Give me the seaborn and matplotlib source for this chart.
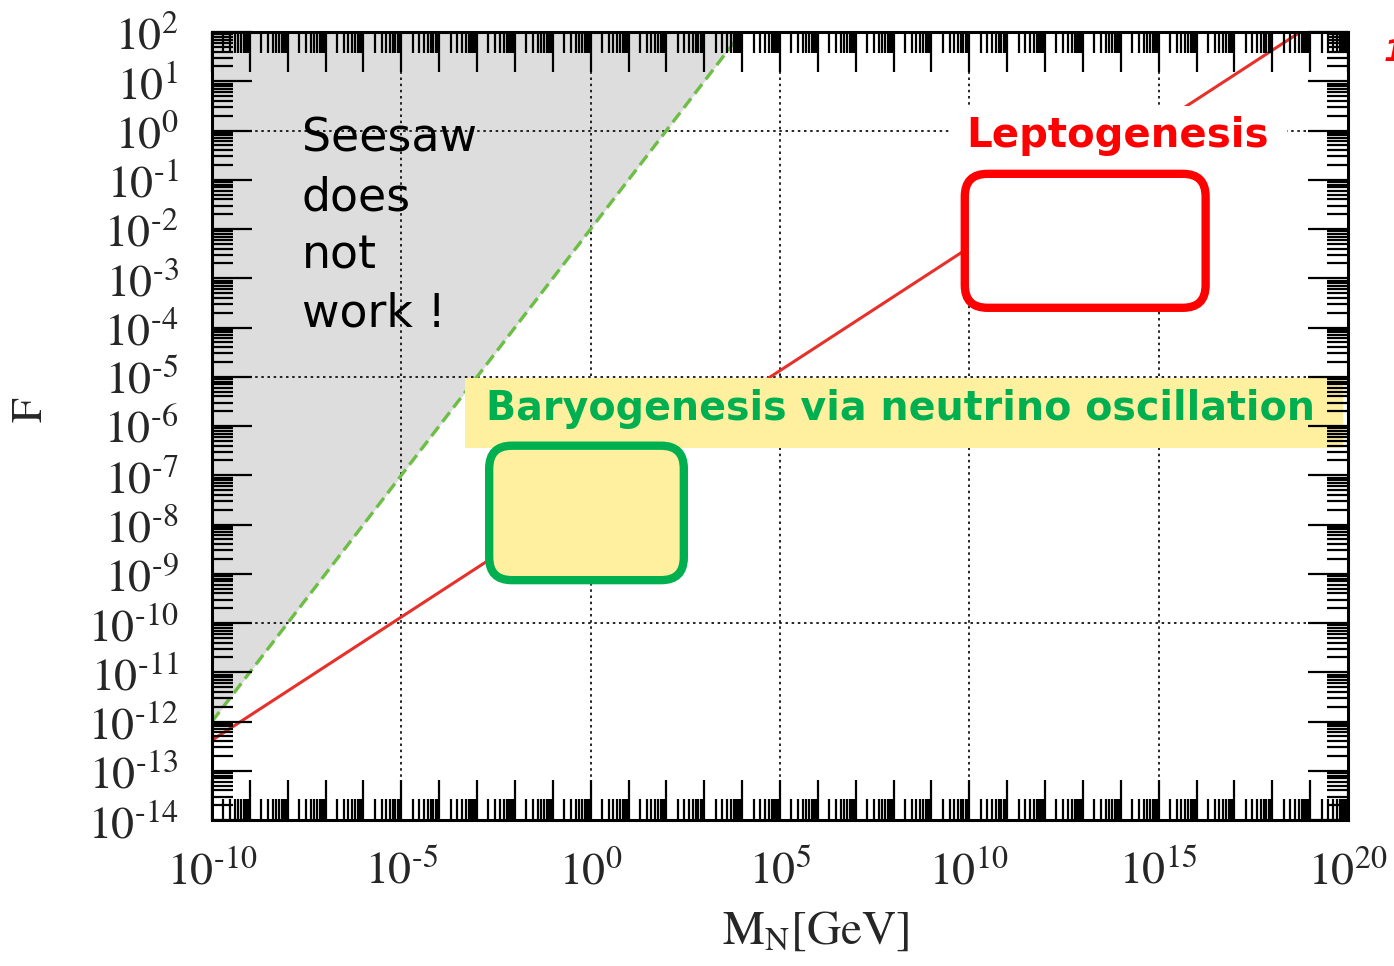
import numpy as np
import matplotlib
matplotlib.use("Agg")
import matplotlib.pyplot as plt
import seaborn as sns
from matplotlib.patches import FancyBboxPatch, Rectangle
from matplotlib.ticker import FixedLocator, LogLocator, NullFormatter

# ---------------- data ----------------
x_decades = list(range(-10, 21))          # major x ticks, every decade
y_decades = list(range(-14, 3))           # major y ticks, every decade
x_label_step = 5                          # x labels every 5 decades
grid_x = [1e-5, 1e0, 1e5, 1e10, 1e15]
grid_y = [1e-10, 1e-5, 1e0]

# red line (leptogenesis scaling) end points
red_M = [1e-10, 1e20]
red_F = [10**-12.38, 10**2.63]
# green dashed seesaw limit end points
green_M = [1e-10, 1e5]
green_F = [1e-12, 1e3]
F_top = 1e2

# region boxes (M range, F range)
baryo_box = dict(M=(10**-2.68, 10**2.46), F=(10**-9.13, 10**-6.40))
lepto_box = dict(M=(10**9.88, 10**16.24), F=(10**-3.60, 10**-0.88))

seesaw_text = "Seesaw\ndoes\nnot\nwork !"
lepto_text = "Leptogenesis"
baryo_text = "Baryogenesis via neutrino oscillation"


def exp_label(e):
    s = str(e).replace("-", r"\text{-}")
    return r"$10^{%s}$" % s


# ---------------- style ----------------
sns.set_theme(style="white")
plt.rcParams["font.family"] = ["DejaVu Sans"]
plt.rcParams["mathtext.fontset"] = "stix"

W, H = 1394, 966
fig = plt.figure(figsize=(W / 100, H / 100), dpi=100)
AX_L, AX_R, AX_T, AX_B = 212, 1348, 32, 820
ax = fig.add_axes([AX_L / W, (H - AX_B) / H, (AX_R - AX_L) / W, (AX_B - AX_T) / H])
ax.set_facecolor("white")

ax.set_xscale("log")
ax.set_yscale("log")
ax.set_xlim(10.0**x_decades[0], 10.0**x_decades[-1])
ax.set_ylim(10.0**y_decades[0], 10.0**y_decades[-1])

# gray excluded region
ax.fill_between(green_M, green_F, F_top, color="#DDDDDD", lw=0, zorder=0.5)

# dotted grid
for gx in grid_x:
    ax.axvline(gx, color="black", lw=1.2, ls=(0, (1.5, 2.2)), zorder=1)
for gy in grid_y:
    ax.axhline(gy, color="black", lw=1.2, ls=(0, (1.5, 2.2)), zorder=1)

# lines
sns.lineplot(x=red_M, y=red_F, ax=ax, color="#E8302A", lw=2.2, sort=False,
             estimator=None, zorder=2)
sns.lineplot(x=green_M, y=green_F, ax=ax, color="#6DBE45", lw=2.4, sort=False,
             estimator=None, zorder=2, linestyle=(0, (3.6, 1.8)))


def d2a(m, f):
    return ax.transAxes.inverted().transform(ax.transData.transform((m, f)))


def px(x, y):
    return ((x - AX_L) / (AX_R - AX_L), (AX_B - y) / (AX_B - AX_T))


axes_aspect = (AX_R - AX_L) / (AX_B - AX_T)

# yellow label band
ax.add_patch(Rectangle(px(465, 448), (1343 - 465) / (AX_R - AX_L),
                       (448 - 378) / (AX_B - AX_T), transform=ax.transAxes,
                       facecolor="#FFF0A0", edgecolor="none", zorder=3))

# white background behind "Leptogenesis"
ax.add_patch(Rectangle(px(950, 176), (1287 - 950) / (AX_R - AX_L),
                       (176 - 106) / (AX_B - AX_T), transform=ax.transAxes,
                       facecolor="white", edgecolor="none", zorder=3))


def region_box(box, edge, face):
    (x0, y0) = d2a(box["M"][0], box["F"][0])
    (x1, y1) = d2a(box["M"][1], box["F"][1])
    p = FancyBboxPatch((x0, y0), x1 - x0, y1 - y0,
                       boxstyle="round,pad=0,rounding_size=0.02",
                       mutation_aspect=axes_aspect,
                       transform=ax.transAxes, facecolor=face, edgecolor=edge,
                       lw=6, zorder=4)
    ax.add_patch(p)


region_box(baryo_box, "#00B050", "#FFF0A0")
region_box(lepto_box, "#FF0000", "white")

# texts
ax.text(*px(302, 117), seesaw_text, transform=ax.transAxes, fontsize=33,
        ha="left", va="top", linespacing=1.38, color="black", zorder=0.8)
ax.text(*px(1117, 136), lepto_text, transform=ax.transAxes, fontsize=29,
        fontweight="bold", color="#FF0000", ha="center", va="center", zorder=5)
ax.text(*px(900, 409), baryo_text, transform=ax.transAxes, fontsize=28.5,
        fontweight="bold", color="#00B050", ha="center", va="center", zorder=5)

# clipped red label at right edge (as in the reference)
fig.text(1384 / W, (H - 61) / H, "1", color="#FF0000", fontsize=22,
         fontweight="bold", style="italic", ha="left", va="baseline")

# ticks
ax.xaxis.set_major_locator(FixedLocator([10.0**e for e in x_decades]))
ax.set_xticklabels([exp_label(e) if e % x_label_step == 0 else "" for e in x_decades])
ax.yaxis.set_major_locator(FixedLocator([10.0**e for e in y_decades]))
ax.set_yticklabels([exp_label(e) for e in y_decades])
ax.xaxis.set_minor_locator(LogLocator(base=10, subs=np.arange(2, 10), numticks=1000))
ax.yaxis.set_minor_locator(LogLocator(base=10, subs=np.arange(2, 10), numticks=1000))
ax.xaxis.set_minor_formatter(NullFormatter())
ax.yaxis.set_minor_formatter(NullFormatter())

ax.tick_params(which="both", direction="in", top=True, right=True, bottom=True,
               left=True, color="black", width=1.6)
ax.tick_params(which="major", length=29)
ax.tick_params(which="minor", length=15)
ax.tick_params(axis="x", which="major", labelsize=33, pad=21)
ax.tick_params(axis="y", which="major", labelsize=33, pad=24)
ax.xaxis.set_zorder(6)
ax.yaxis.set_zorder(6)

for s in ax.spines.values():
    s.set_linewidth(2.2)
    s.set_color("black")
    s.set_zorder(6)

ax.set_xlabel(r"$\mathrm{M_N[GeV]}$", fontsize=34)
ax.xaxis.set_label_coords(0.531, -0.112)
ax.set_ylabel(r"$\mathrm{F}$", fontsize=32)
ax.yaxis.set_label_coords(-0.142, 0.52)

fig.savefig("out.png", dpi=100)
